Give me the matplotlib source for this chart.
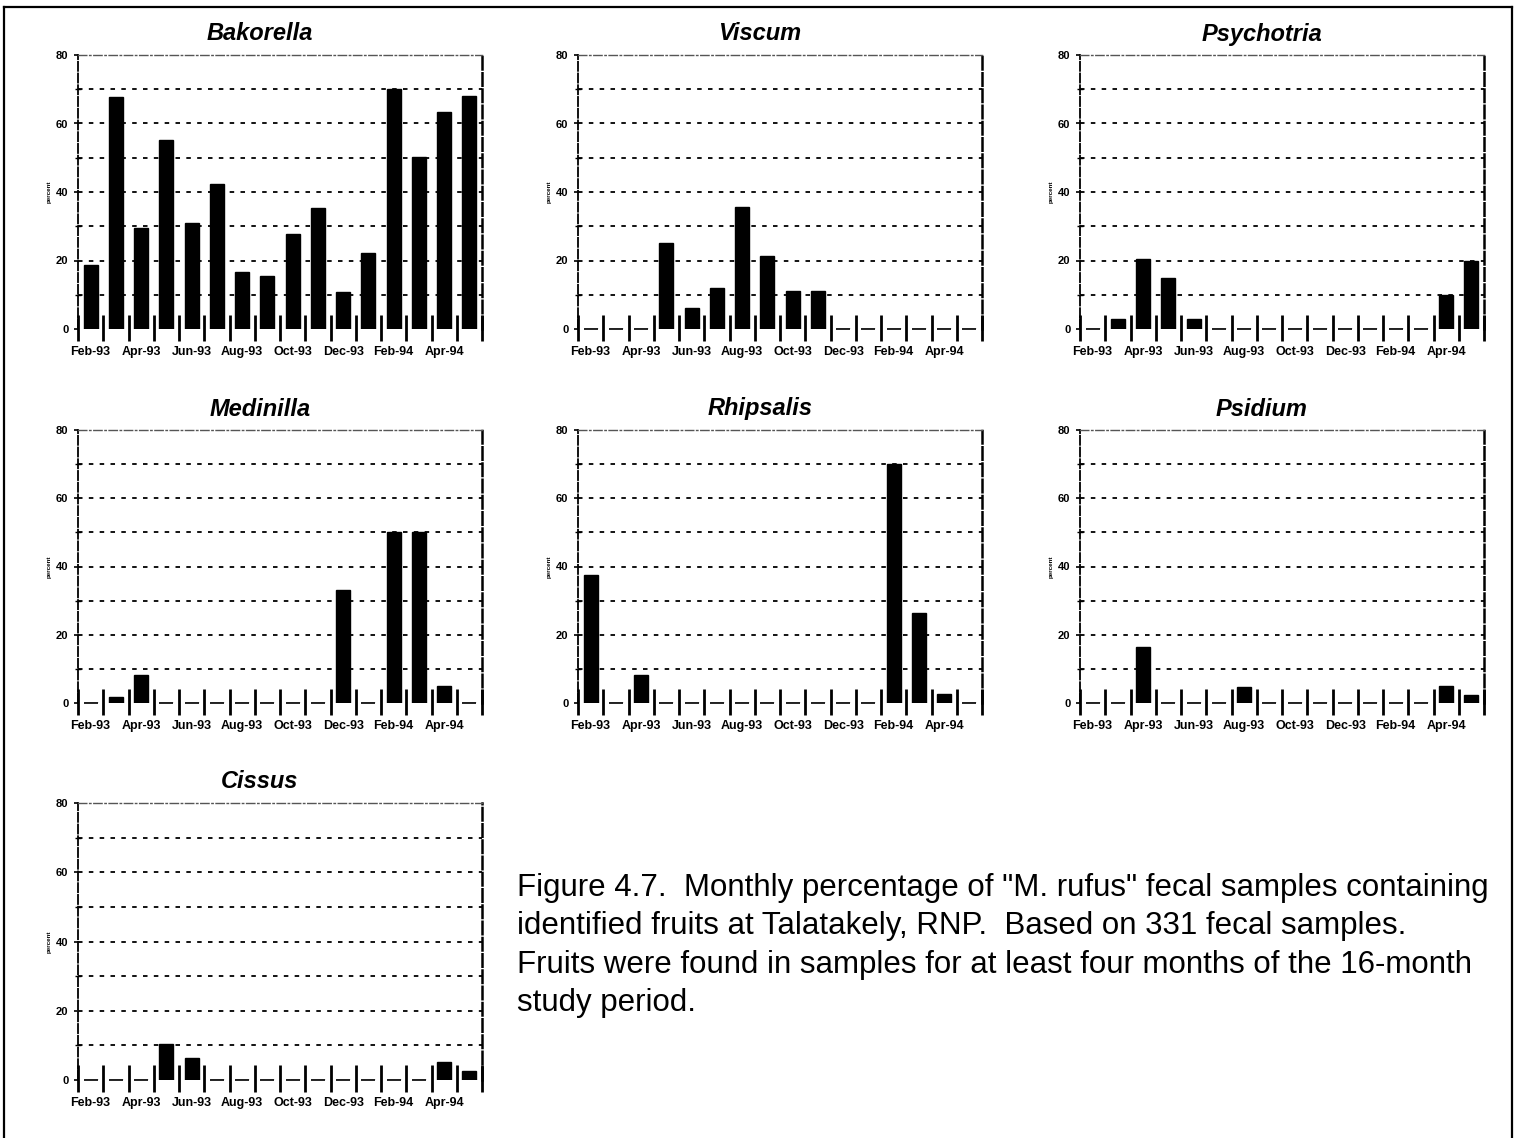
import numpy as np
import matplotlib
matplotlib.use("Agg")
import matplotlib.pyplot as plt
from matplotlib.lines import Line2D

plt.rcParams['font.family'] = ['Liberation Sans', 'DejaVu Sans']

months = ['Feb-93', 'Mar-93', 'Apr-93', 'May-93', 'Jun-93', 'Jul-93', 'Aug-93',
          'Sep-93', 'Oct-93', 'Nov-93', 'Dec-93', 'Jan-94', 'Feb-94', 'Mar-94',
          'Apr-94', 'May-94']
tick_labels = ['Feb-93', 'Apr-93', 'Jun-93', 'Aug-93', 'Oct-93', 'Dec-93',
               'Feb-94', 'Apr-94']

bakorella = [18.7, 67.7, 29.6, 55.1, 31.0, 42.4, 16.5, 15.4, 27.7, 35.2, 10.9,
             22.1, 70.0, 50.2, 63.3, 68.0]
viscum = [0, 0, 0, 25.0, 6.2, 11.9, 35.5, 21.2, 11.1, 11.1, 0, 0, 0, 0, 0, 0]
psychotria = [0, 3.0, 20.4, 14.9, 3.0, 0, 0, 0, 0, 0, 0, 0, 0, 0, 9.9, 20.0]
medinilla = [0, 1.7, 8.3, 0, 0, 0, 0, 0, 0, 0, 33.0, 0, 50.0, 50.0, 5.0, 0]
rhipsalis = [37.6, 0, 8.2, 0, 0, 0, 0, 0, 0, 0, 0, 0, 70.0, 26.5, 2.6, 0]
psidium = [0, 0, 16.4, 0, 0, 0, 4.6, 0, 0, 0, 0, 0, 0, 0, 4.9, 2.3]
cissus = [0, 0, 0, 10.4, 6.4, 0, 0, 0, 0, 0, 0, 0, 0, 0, 5.3, 2.6]

panels = [
    ('Bakorella', bakorella, 0, 0),
    ('Viscum', viscum, 0, 1),
    ('Psychotria', psychotria, 0, 2),
    ('Medinilla', medinilla, 1, 0),
    ('Rhipsalis', rhipsalis, 1, 1),
    ('Psidium', psidium, 1, 2),
    ('Cissus', cissus, 2, 0),
]

caption = ('Figure 4.7.  Monthly percentage of "M. rufus" fecal samples containing\n'
           'identified fruits at Talatakely, RNP.  Based on 331 fecal samples.\n'
           'Fruits were found in samples for at least four months of the 16-month\n'
           'study period.')

W, H = 1516, 1138
fig = plt.figure(figsize=(W / 100, H / 100), dpi=100)

col_left = [78, 578, 1080]
col_width = 404
row_span = [(55, 329), (430, 703), (803, 1080)]

x = np.arange(len(months))
bar_w = 0.56
grid_levels = np.arange(10, 80, 10)

for title, vals, r, c in panels:
    top, bot = row_span[r]
    vals = np.asarray(vals, dtype=float)
    ax = fig.add_axes([col_left[c] / W, 1 - bot / H, col_width / W, (bot - top) / H])

    # horizontal reference lines
    ax.hlines(grid_levels, -0.5, 15.5, colors='black', linewidth=1.3,
              linestyles=[(0, (2.5, 3.5))], zorder=1)

    ax.bar(x, vals, width=bar_w, color='black', edgecolor='black',
           linewidth=1.0, zorder=2)
    # months with no record show as a flat stroke on the zero line
    empty = vals == 0
    ax.hlines(vals[empty], x[empty] - bar_w / 2, x[empty] + bar_w / 2,
              colors='black', linewidth=1.2, zorder=2, clip_on=False)

    ax.set_xlim(-0.5, 15.5)
    ax.set_ylim(0, 80)

    # month separators crossing the zero line
    ax.vlines(np.arange(-0.5, 16.0, 1.0), -3.6, 4.2, color='black', lw=2.0,
              clip_on=False, zorder=3)

    ax.set_yticks([0, 20, 40, 60, 80])
    ax.set_yticks([10, 30, 50, 70], minor=True)
    ax.set_yticklabels(['0', '20', '40', '60', '80'], fontsize=8, fontweight='bold')
    ax.tick_params(axis='y', which='major', direction='out', length=3, width=1.2, pad=4)
    ax.tick_params(axis='y', which='minor', direction='inout', length=4, width=1.0)

    ax.set_xticks(x[::2])
    ax.set_xticklabels(tick_labels, fontsize=9, fontweight='bold')
    ax.tick_params(axis='x', length=0, pad=12)

    for side in ('left', 'right'):
        ax.spines[side].set_linestyle((0, (5, 1.5)))
        ax.spines[side].set_linewidth(1.3)
    ax.spines['right'].set_linewidth(1.8)
    ax.spines['top'].set_linestyle((0, (6, 2, 1, 2)))
    ax.spines['top'].set_linewidth(1.0)
    ax.spines['top'].set_color('#555555')
    ax.spines['bottom'].set_visible(False)

    ax.set_ylabel('percent', fontsize=4.5, fontweight='bold', labelpad=3)
    ax.text(0.45, 1.0 + 21 / (bot - top), title, transform=ax.transAxes,
            ha='center', va='center', fontsize=17, fontweight='bold',
            fontstyle='italic')

# caption block
fig.text(517 / W, 1 - 873 / H, caption, ha='left', va='top', fontsize=22.5,
         linespacing=1.36)

# page frame
frame_kw = dict(color='black', linewidth=1.6, transform=fig.transFigure)
fig.add_artist(Line2D([4 / W, 4 / W], [0, 1 - 7 / H], **frame_kw))
fig.add_artist(Line2D([4 / W, 1512 / W], [1 - 7 / H, 1 - 7 / H], **frame_kw))
fig.add_artist(Line2D([1512 / W, 1512 / W], [0, 1 - 7 / H], **frame_kw))

fig.savefig('out.png', dpi=100)
